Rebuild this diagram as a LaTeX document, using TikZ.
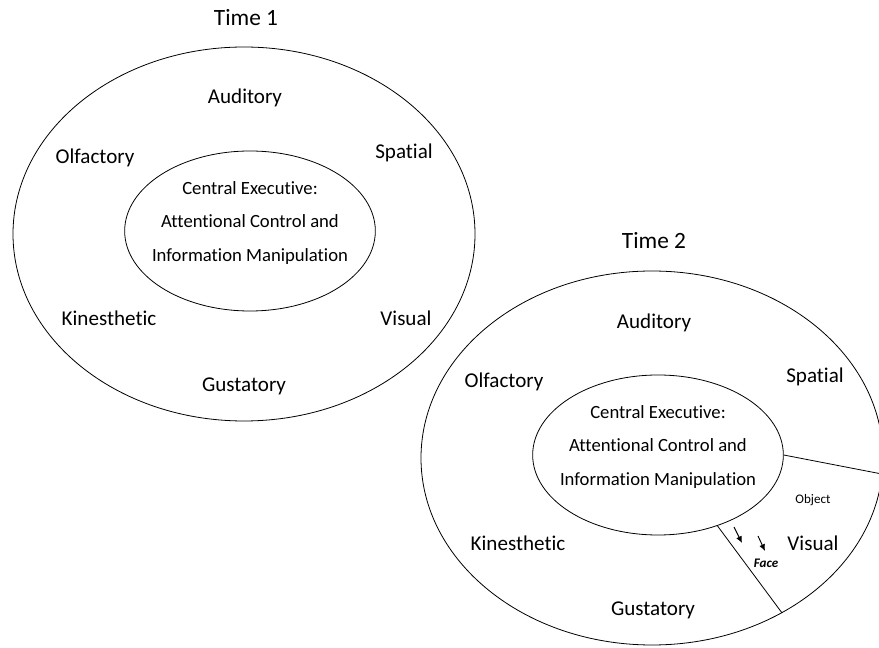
\documentclass[tikz,border=0pt]{standalone}
\usepackage{fontspec}
\setmainfont{Carlito}[Ligatures=NoCommon]
\usetikzlibrary{arrows,arrows.meta}
\usetikzlibrary{shapes.geometric}

\begin{document}
\begin{tikzpicture}[x=0.75pt,y=-0.75pt]
\tikzset{store/.style = {shape=ellipse,draw,line width=0.6pt,minimum width=346.5pt,minimum height=280.5pt}}
\tikzset{exec/.style = {shape=ellipse,draw,line width=0.6pt,minimum width=188pt,minimum height=120pt}}
\tikzset{exectext/.style = {align=center,font=\fontsize{14}{25}\selectfont}}
\tikzset{sense/.style = {font=\fontsize{15.8}{19}\selectfont}}
\tikzset{title/.style = {font=\fontsize{17.5}{21}\selectfont}}
\tikzset{small/.style = {font=\fontsize{9.8}{12}\selectfont}}
\tikzset{edge/.style = {-,line width=0.6pt}}
\tikzset{cue/.style = {-{Latex[length=5pt,width=4.5pt]},line width=0.7pt}}
\useasboundingbox (0,0) rectangle (879,648);
% time 1
\node[title] (time1) at (246,18) {Time 1};
\node[store] (wm1) at (244,234) {};
\node[exec] (ce1) at (250,231) {};
\node[exectext] (cet1) at (250,223) {Central Executive:\\Attentional Control and\\Information Manipulation};
\node[sense] (aud1) at (245,98) {Auditory};
\node[sense] (olf1) at (95,158) {Olfactory};
\node[sense] (spa1) at (404,153) {Spatial};
\node[sense] (kin1) at (109,318) {Kinesthetic};
\node[sense] (vis1) at (406,318) {Visual};
\node[sense] (gus1) at (244,386) {Gustatory};
% time 2
\node[title] (time2) at (654,241) {Time 2};
\node[store] (wm2) at (652,458) {};
\node[exec] (ce2) at (658,455) {};
\node[exectext] (cet2) at (658,447) {Central Executive:\\Attentional Control and\\Information Manipulation};
\node[sense] (aud2) at (654,323) {Auditory};
\node[sense] (olf2) at (504,382) {Olfactory};
\node[sense] (spa2) at (815,377) {Spatial};
\node[sense] (kin2) at (518,543) {Kinesthetic};
\node[sense] (vis2) at (813,543) {Visual};
\node[sense] (gus2) at (653,610) {Gustatory};
\node[small] (obj2) at (813,500) {Object};
\node[small] (face2) at (766,563) {\bfseries\itshape Face};
% visual split
\draw[edge] (ce2.0) to (wm2.-4);
\draw[edge] (ce2.-50) to (wm2.-50);
% face cues
\coordinate (c1s) at (734,527);
\coordinate (c1e) at (742,543);
\coordinate (c2s) at (758,536);
\coordinate (c2e) at (765,551);
\draw[cue] (c1s) to (c1e);
\draw[cue] (c2s) to (c2e);
\end{tikzpicture}
\end{document}
